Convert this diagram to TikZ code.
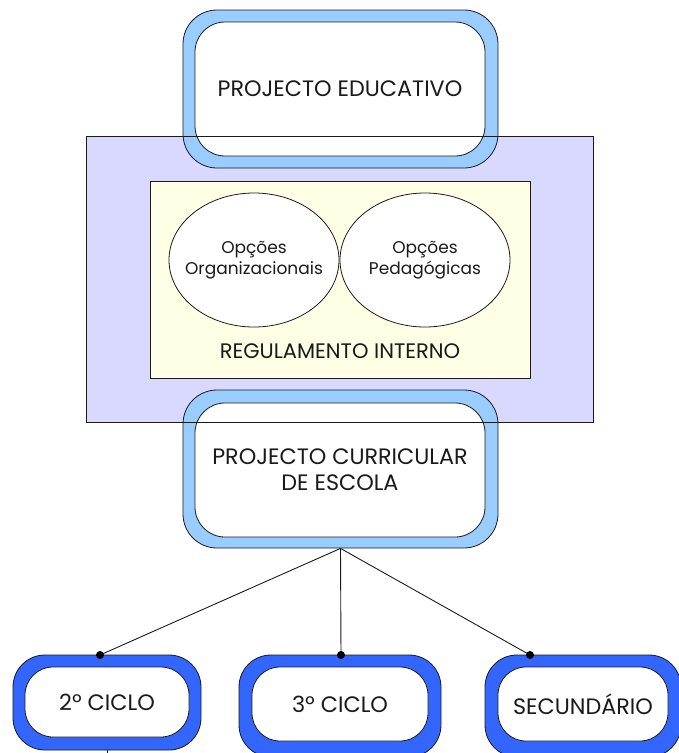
\documentclass[tikz,border=0pt]{standalone}
\usepackage{fontspec}
\setmainfont{Poppins}
\usetikzlibrary{shapes.geometric}
\definecolor{lav}{HTML}{D9D9FF}
\definecolor{ivory}{HTML}{FFFFE6}
\definecolor{lblue}{HTML}{99CCFF}
\definecolor{dblue}{HTML}{3366FF}
\definecolor{ink}{HTML}{1A1A1A}
\begin{document}
\begin{tikzpicture}[x=1pt,y=-1pt,
  ringbig/.style={draw=ink, line width=0.8pt, fill=lblue, rounded corners=34pt, inner sep=0pt},
  ringsmall/.style={draw=ink, line width=0.8pt, fill=dblue, rounded corners=32pt, inner sep=0pt},
  core/.style={draw=ink, line width=0.8pt, fill=white, rounded corners=30pt, inner sep=0pt, align=center, text=ink, font=\fontsize{22.3}{26}\selectfont},
  oval/.style={ellipse, draw=ink, line width=0.8pt, fill=white, inner sep=0pt, minimum width=170pt, minimum height=134pt},
  ovaltext/.style={align=center, text=ink, inner sep=0pt, font=\fontsize{17}{21}\selectfont},
  wire/.style={draw=ink, line width=0.9pt},
  dot/.style={circle, fill=black, inner sep=0pt, minimum size=8pt}
]
\useasboundingbox (0,0) rectangle (678,753);
% lavender frame (fill)
\node[fill=lav, minimum width=506pt, minimum height=285pt, inner sep=0pt] (frame) at (340,279.5) {};
% regulamento interno
\node[fill=ivory, draw=ink, line width=0.8pt, minimum width=380pt, minimum height=197pt, inner sep=0pt] (ri) at (340,279.5) {};
\node[oval] (org) at (254,260) {};
\node[oval] (ped) at (425,260) {};
\node[ovaltext] (orgtxt) at (org.center) {Opções\\Organizacionais};
\node[ovaltext] (pedtxt) at (ped.center) {Opções\\Pedagógicas};
\node[text=ink, font=\fontsize{21}{26}\selectfont] (rilabel) at (340,351) {REGULAMENTO INTERNO};
% projecto educativo
\node[ringbig, minimum width=315pt, minimum height=158pt] (peo) at (340.5,89) {};
\node[core, minimum width=290pt, minimum height=134pt] (pe) at (340,89) {PROJECTO EDUCATIVO};
% projecto curricular
\node[ringbig, minimum width=315pt, minimum height=158pt] (pceo) at (340.5,469) {};
\node[core, minimum width=290pt, minimum height=134pt] (pce) at (340,470) {PROJECTO CURRICULAR\\DE ESCOLA};
% frame border on top
\draw[draw=ink, line width=0.8pt] (frame.north west) rectangle (frame.south east);
% cycles
\node[ringsmall, minimum width=188pt, minimum height=95pt] (c2o) at (107,702.5) {};
\node[core, rounded corners=28pt, minimum width=164pt, minimum height=70pt] (c2) at (107,702) {2º CICLO};
\node[ringsmall, minimum width=202pt, minimum height=102pt] (c3o) at (340,706) {};
\node[core, rounded corners=28pt, minimum width=176pt, minimum height=74pt] (c3) at (340,704) {3º CICLO};
\node[ringsmall, minimum width=196pt, minimum height=102pt] (seco) at (583,706) {};
\node[core, rounded corners=28pt, minimum width=170pt, minimum height=74pt] (sec) at (583,704) {SECUNDÁRIO};
% connectors
\coordinate (d2) at (100,655);
\coordinate (d3) at (341,655);
\coordinate (ds) at (530,655);
\draw[wire] (pceo.south) -- (d2);
\draw[wire] (pceo.south) -- (d3);
\draw[wire] (pceo.south) -- (ds);
\node[dot] (p2) at (d2) {};
\node[dot] (p3) at (d3) {};
\node[dot] (ps) at (ds) {};
\coordinate (tail) at (107,760);
\draw[wire] (c2o.south) -- (tail);
\end{tikzpicture}
\end{document}
